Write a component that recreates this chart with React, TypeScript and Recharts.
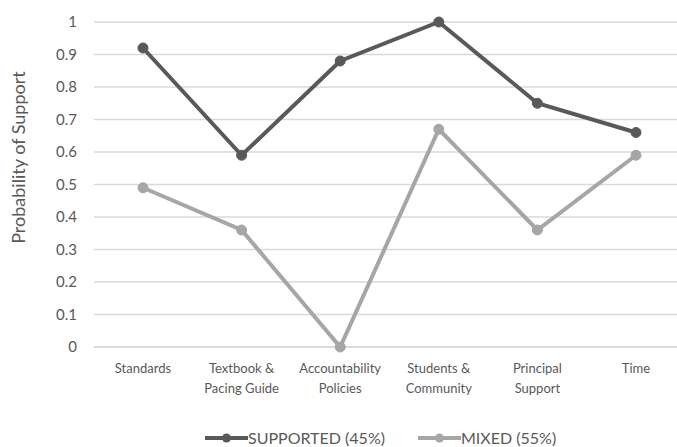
import { LineChart, Line, XAxis, YAxis, CartesianGrid, Legend } from 'recharts';

const categories = [
  'Standards',
  'Textbook &\nPacing Guide',
  'Accountability\nPolicies',
  'Students &\nCommunity',
  'Principal\nSupport',
  'Time',
];
const seriesNames = ['SUPPORTED (45%)', 'MIXED (55%)'];
const supported = [0.92, 0.59, 0.88, 1.0, 0.75, 0.66];
const mixed = [0.49, 0.36, 0.0, 0.67, 0.36, 0.59];
const yTicks = [0, 0.1, 0.2, 0.3, 0.4, 0.5, 0.6, 0.7, 0.8, 0.9, 1];

const data = categories.map((name, i) => ({
  name,
  supported: supported[i],
  mixed: mixed[i],
}));

const TEXT = '#595959';
const FONT = 'Lato, "Open Sans", sans-serif';

function CategoryTick({ x, y, payload }: any) {
  const lines = String(payload.value).split('\n');
  return (
    <text x={x} y={y} textAnchor="middle" fill={TEXT} fontSize={13} fontFamily={FONT}>
      {lines.map((line, i) => (
        <tspan key={i} x={x} dy={i === 0 ? 18 : 20}>{line}</tspan>
      ))}
    </text>
  );
}

function LegendContent({ payload }: any) {
  const items = [...(payload || [])].sort(
    (a: any, b: any) => seriesNames.indexOf(a.value) - seriesNames.indexOf(b.value)
  );
  return (
    <div style={{ display: 'flex', paddingLeft: 205, paddingTop: 11, fontFamily: FONT, fontSize: 16, color: TEXT }}>
      {items.map((entry: any, i: number) => (
        <div key={i} style={{ display: 'flex', alignItems: 'center', marginRight: 33 }}>
          <svg width={43} height={12}>
            <line x1={0} y1={6} x2={43} y2={6} stroke={entry.color} strokeWidth={4} />
            <circle cx={21.5} cy={6} r={4.5} fill={entry.color} />
          </svg>
          <span>{entry.value}</span>
        </div>
      ))}
    </div>
  );
}

export default function App() {
  return (
    <div style={{ position: 'absolute', left: 0, top: 0, width: 677, height: 447, overflow: 'hidden', background: '#fff' }}>
      <LineChart width={686} height={447} data={data} margin={{ top: 22, right: 1, left: 0, bottom: 0 }}>
        <CartesianGrid vertical={false} stroke="#d9d9d9" strokeWidth={1.5} />
        <XAxis
          dataKey="name"
          height={70}
          tick={<CategoryTick />}
          tickLine={false}
          axisLine={{ stroke: '#d9d9d9', strokeWidth: 1.5 }}
          interval={0}
          padding={{ left: 49, right: 49 }}
        />
        <YAxis
          width={94}
          domain={[0, 1]}
          ticks={yTicks}
          tickLine={false}
          axisLine={false}
          tickMargin={11}
          tick={{ fill: TEXT, fontSize: 15, fontFamily: FONT }}
          label={{
            value: 'Probability of  Support',
            angle: -90,
            position: 'insideLeft',
            dx: 14,
            dy: -27,
            style: { fill: TEXT, fontSize: 18, fontFamily: FONT, textAnchor: 'middle' },
          }}
        />
        <Legend verticalAlign="bottom" height={30} content={<LegendContent />} wrapperStyle={{ left: 0, width: 686 }} />
        <Line
          name={seriesNames[0]}
          dataKey="supported"
          stroke="#595959"
          strokeWidth={4}
          dot={{ r: 5, fill: '#595959', stroke: '#595959', strokeWidth: 1 }}
          isAnimationActive={false}
        />
        <Line
          name={seriesNames[1]}
          dataKey="mixed"
          stroke="#a6a6a6"
          strokeWidth={4}
          dot={{ r: 5, fill: '#a6a6a6', stroke: '#a6a6a6', strokeWidth: 1 }}
          isAnimationActive={false}
        />
      </LineChart>
    </div>
  );
}
